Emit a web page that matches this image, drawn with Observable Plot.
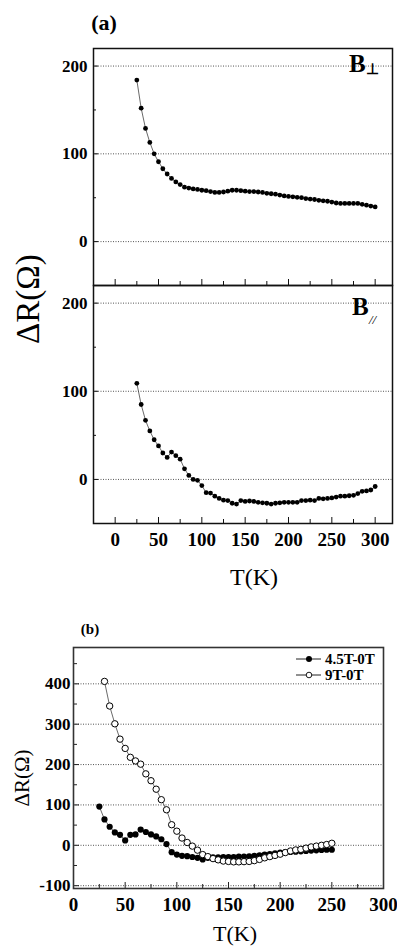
<!DOCTYPE html>
<html><head><meta charset="utf-8">
<script src="https://cdn.jsdelivr.net/npm/d3@7"></script>
<script src="https://cdn.jsdelivr.net/npm/@observablehq/plot@0.6"></script>
<style>
html,body{margin:0;padding:0;background:#fff;}
#wrap{position:relative;width:397px;height:946px;overflow:hidden;background:#fff;}
.pw{position:absolute;left:0;}
.pw svg{display:block;overflow:visible;}
#ov{position:absolute;left:0;top:0;pointer-events:none;}
</style></head><body><div id="wrap"></div>
<script>
// ---------- data ----------
const tempA = [25,30,35,40,45,50,55,60,65,70,75,80,85,90,95,100,105,110,115,120,125,130,135,140,145,150,155,160,165,170,175,180,185,190,195,200,205,210,215,220,225,230,235,240,245,250,255,260,265,270,275,280,285,290,295,300];
const perpDR = [184,152,129,113,100,91,83,77,72,68,65,62,61,60,59.5,58.5,58,57,56,56,56.5,57.5,58.5,58.5,58,57.5,57,57,56.5,56,55,54.5,54,53,52,51.5,51,50.5,50,49,48.5,48,47,46.5,46,45,44,43.5,43.5,43.5,43.5,43.5,42.5,41.5,40.5,39.5];
const parDR = [109,85,67,55,45,38,30,25,31,27,23,12,4.5,0,-1,-7,-15,-15.5,-19,-21.5,-23.5,-24,-27,-28,-24,-25,-24.5,-25,-26,-26.5,-27,-28,-27,-26.5,-26,-26,-26,-26,-24,-24,-23.5,-24,-21.5,-22,-21.5,-21,-20,-19,-19,-18.5,-18,-16,-13.5,-13,-12,-8];

const tempB45 = [25,30,35,40,45,50,55,60,65,70,75,80,85,90,95,100,105,110,115,120,125,130,135,140,145,150,155,160,165,170,175,180,185,190,195,200,205,210,215,220,225,230,235,240,245,250];
const dR45 = [96,64,46,32,26,12,26,27,39,33,27,22,15,3,-17,-23,-26,-27,-29,-31,-35,-31,-30,-30,-29.5,-29,-29,-28,-28,-27.5,-26,-25,-23,-21.5,-20,-18,-17,-16.5,-16,-15,-14,-13,-12.5,-11.5,-11,-11];
const tempB9 = [30,35,40,45,50,55,60,65,70,75,80,85,90,95,100,105,110,115,120,125,130,135,140,145,150,155,160,165,170,175,180,185,190,195,200,205,210,215,220,225,230,235,240,245,250];
const dR9 = [406,345,301,263,240,218,209,201,177,160,139,113,88,51,35,18,7,-2,-12,-23,-28,-33,-36,-39,-40,-41,-41,-40.5,-40,-38,-35,-31,-28,-25,-22,-18,-14,-11.5,-10,-7,-4,-2,0,2,5];

const xTicksA = [0,50,100,150,200,250,300];
const xMinorA = [25,75,125,175,225,275];
const yTicksA = [0,100,200];
const yMinorA = [50,150];
const xTicksB = [0,50,100,150,200,250,300];
const xMinorB = [25,75,125,175,225,275];
const yTicksB = [-100,0,100,200,300,400];
const yMinorB = [-50,50,150,250,350,450];

const seriesNames = ["4.5T-0T","9T-0T"];

// ---------- helpers ----------
const serif = "'Liberation Serif','Times New Roman',serif";
const rows = (xs, ys) => xs.map((T, i) => ({T, dR: ys[i]}));
const wrap = document.getElementById("wrap");
function place(svg, top) {
  const d = document.createElement("div");
  d.className = "pw"; d.style.top = top + "px";
  d.appendChild(svg); wrap.appendChild(d);
}
const gridStyle = {stroke: "#555", strokeWidth: 1, strokeDasharray: "1,1.5"};

// ---------- panel (a) ----------
function panelA(data, cfg) {
  const fw = 397 - 93 - 5;
  const fh = cfg.fh;
  const marks = [
    Plot.ruleY(yTicksA, gridStyle),
    Plot.tickX(xTicksA, {x: d => d, insetTop: fh - 6, stroke: "#111"}),
    Plot.tickX(xMinorA, {x: d => d, insetTop: fh - 4, stroke: "#111"}),
    Plot.tickY(yTicksA, {y: d => d, insetRight: fw - 5, stroke: "#111"}),
    Plot.tickY(yMinorA, {y: d => d, insetRight: fw - 3, stroke: "#111"}),
    Plot.axisY({ticks: yTicksA, tickSize: 0, tickPadding: 6, fontSize: 17, fontWeight: "bold", label: null, tickFormat: d => String(d)}),
    Plot.line(data, {x: "T", y: "dR", stroke: "#444", strokeWidth: 0.8}),
    Plot.dot(data, {x: "T", y: "dR", r: 2.4, fill: "#000"}),
    Plot.frame({stroke: "#111", strokeWidth: 1.5})
  ];
  if (cfg.xLabels) marks.push(Plot.axisX({ticks: xTicksA, tickSize: 0, tickPadding: 9, fontSize: 19, fontWeight: "bold", label: null, tickFormat: d => String(d)}));
  return Plot.plot({
    width: 397, height: cfg.height,
    marginLeft: 93, marginRight: 5, marginTop: cfg.mt, marginBottom: cfg.mb,
    style: {background: "transparent", fontFamily: serif, color: "#000", overflow: "visible"},
    x: {domain: [-25, 320], axis: cfg.xLabels ? undefined : null, label: null},
    y: {domain: [-50, 220], label: null},
    marks
  });
}
place(panelA(rows(tempA, perpDR), {height: 290, mt: 48, mb: 5, fh: 237, xLabels: false}), 0);
place(panelA(rows(tempA, parDR), {height: 273, mt: 5, mb: 30, fh: 238, xLabels: true}), 280);

// ---------- panel (b) ----------
{
  const fw = 397 - 73 - 14, fh = 241;
  const d45 = rows(tempB45, dR45), d9 = rows(tempB9, dR9);
  const svg = Plot.plot({
    width: 397, height: 278,
    marginLeft: 73, marginRight: 14, marginTop: 7, marginBottom: 30,
    style: {background: "transparent", fontFamily: serif, color: "#000", overflow: "visible"},
    x: {domain: [0, 300], label: null},
    y: {domain: [-107, 490], label: null},
    marks: [
      Plot.ruleY(yTicksB, gridStyle),
      Plot.tickX(xTicksB, {x: d => d, insetTop: fh - 6, stroke: "#222"}),
      Plot.tickX(xMinorB, {x: d => d, insetTop: fh - 4, stroke: "#222"}),
      Plot.tickY(yTicksB, {y: d => d, insetRight: fw - 6, stroke: "#222"}),
      Plot.tickY(yMinorB, {y: d => d, insetRight: fw - 4, stroke: "#222"}),
      Plot.axisY({ticks: yTicksB, tickSize: 0, tickPadding: 3, fontSize: 17, fontWeight: "bold", label: null, tickFormat: d => String(d)}),
      Plot.axisX({ticks: xTicksB, tickSize: 0, tickPadding: 9, fontSize: 19, fontWeight: "bold", label: null, tickFormat: d => String(d)}),
      Plot.line(d9, {x: "T", y: "dR", stroke: "#444", strokeWidth: 0.8}),
      Plot.line(d45, {x: "T", y: "dR", stroke: "#444", strokeWidth: 0.8}),
      Plot.dot(d45, {x: "T", y: "dR", r: 3.1, fill: "#000"}),
      Plot.dot(d9, {x: "T", y: "dR", r: 3.2, fill: "#fff", stroke: "#000", strokeWidth: 1}),
      Plot.frame({stroke: "#333", strokeWidth: 1.6})
    ]
  });
  place(svg, 640);
}

// ---------- text overlay: titles, axis labels, panel tags, legend ----------
const ov = d3.select(wrap).append("svg").attr("id", "ov").attr("width", 397).attr("height", 946)
  .style("font-family", serif);
function txt(x, y, s, size, opts = {}) {
  const t = ov.append("text").attr("x", x).attr("y", y).attr("font-size", size)
    .attr("text-anchor", opts.anchor || "start").attr("font-weight", opts.bold ? "bold" : "normal")
    .attr("fill", "#000").text(s);
  if (opts.italic) t.attr("font-style", "italic");
  if (opts.rotate) t.attr("transform", `rotate(-90 ${x} ${y})`).attr("dominant-baseline", "central");
  return t;
}
txt(104, 30, "(a)", 22, {anchor: "middle", bold: true});
txt(90, 634, "(b)", 15, {anchor: "middle", bold: true});
txt(28, 299, "ΔR(Ω)", 33, {anchor: "middle", rotate: true});
txt(22, 778, "ΔR(Ω)", 21, {anchor: "middle", rotate: true});
txt(254, 585, "T(K)", 24, {anchor: "middle"});
txt(235, 941, "T(K)", 22, {anchor: "middle"});
// B-perp and B-parallel tags
txt(349, 72, "B", 25, {bold: true});
txt(366, 74, "⊥", 15, {bold: true});
txt(352, 315, "B", 25, {bold: true});
txt(369, 324, "//", 13, {italic: true});
// legend
const legRows = [{y: 659, open: false}, {y: 675, open: true}];
legRows.forEach((r, i) => {
  ov.append("line").attr("x1", 296).attr("x2", 321).attr("y1", r.y).attr("y2", r.y).attr("stroke", "#222").attr("stroke-width", 1);
  ov.append("circle").attr("cx", 309).attr("cy", r.y).attr("r", r.open ? 2.8 : 3)
    .attr("fill", r.open ? "#fff" : "#000").attr("stroke", "#000").attr("stroke-width", r.open ? 0.9 : 0);
  txt(325, r.y + 5, seriesNames[i], 15, {bold: true});
});
</script></body></html>
